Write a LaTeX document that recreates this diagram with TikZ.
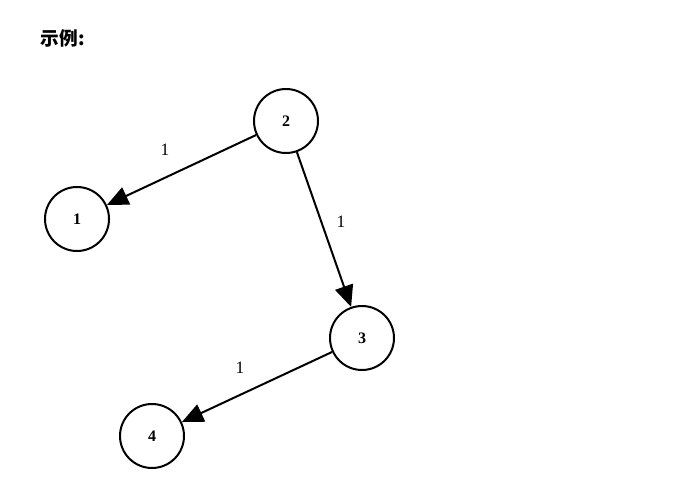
\documentclass[tikz,border=0pt]{standalone}
\usepackage{fontspec}
\newfontfamily\cjk{Noto Sans CJK SC}
\setmainfont{Liberation Serif}
\usetikzlibrary{arrows.meta}
\begin{document}
\begin{tikzpicture}[x=0.75pt,y=-0.75pt,
  vert/.style={circle,draw,line width=1.5pt,minimum size=48pt,inner sep=0pt,font=\bfseries\fontsize{12}{14}\selectfont},
  edge/.style={line width=1.5pt,-{Triangle[length=16pt,width=14pt]}},
  wt/.style={font=\fontsize{13}{15}\selectfont}]
\fill[white] (0,0) rectangle (697,496);
\useasboundingbox (0,0) rectangle (697,496);
\node[anchor=west,font=\cjk\bfseries\fontsize{14}{16}\selectfont] (title) at (36,38) {示例:};
\node[vert] (n2) at (286,121) {2};
\node[vert] (n1) at (77,219) {1};
\node[vert] (n3) at (362,338) {3};
\node[vert] (n4) at (152,436) {4};
\draw[edge] (n2) -- (n1);
\draw[edge] (n2) -- (n3);
\draw[edge] (n3) -- (n4);
\node[wt] (w1) at (165,150) {1};
\node[wt] (w2) at (341,222) {1};
\node[wt] (w3) at (240,368) {1};
\end{tikzpicture}
\end{document}
